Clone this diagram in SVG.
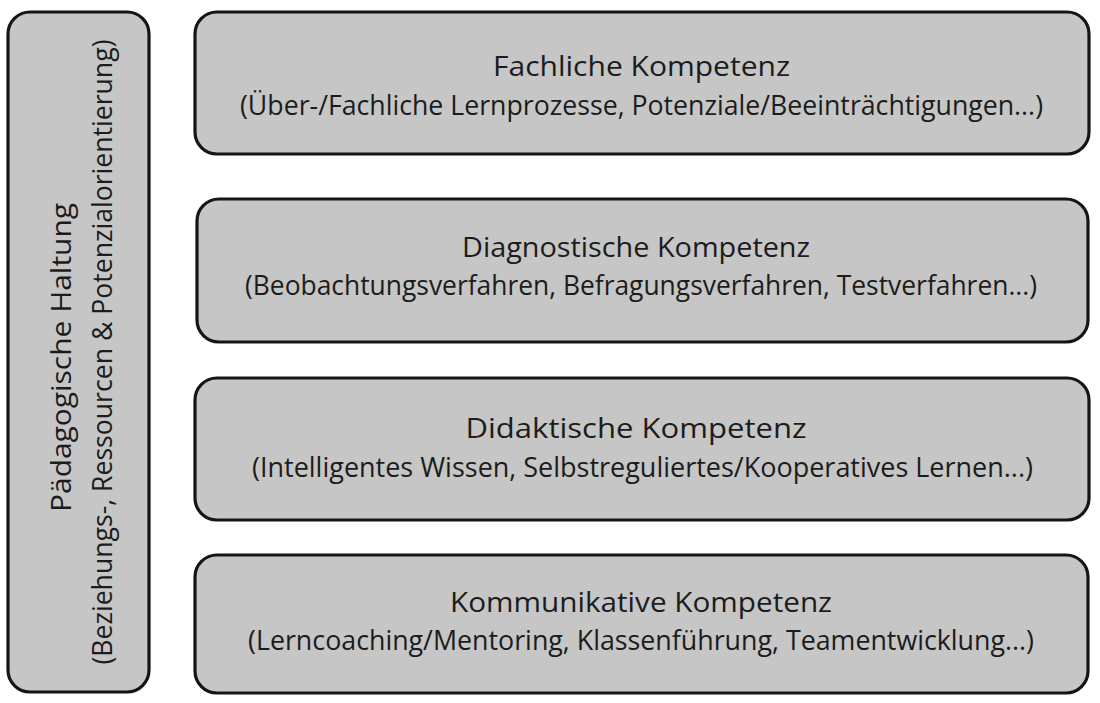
<svg xmlns="http://www.w3.org/2000/svg" width="1100" height="703" viewBox="0 0 1100 703">
<style>
.box{fill:#c6c6c6;stroke:#151515;stroke-width:3.2}
.t{font-family:"Open Sans","Noto Sans","Liberation Sans",sans-serif;font-size:28px;fill:#1c1c1c;text-anchor:middle}
</style>
<rect width="1100" height="703" fill="#ffffff"/>
<g id="haltung">
<rect class="box" x="8" y="12" width="141" height="680" rx="22" ry="22"/>
<text class="t" transform="translate(71,357.5) rotate(-90)" textLength="309" lengthAdjust="spacingAndGlyphs">Pädagogische Haltung</text>
<text class="t" transform="translate(112,352) rotate(-90)" textLength="625" lengthAdjust="spacingAndGlyphs">(Beziehungs-, Ressourcen &amp; Potenzialorientierung)</text>
</g>
<g id="fachlich">
<rect class="box" x="195" y="12" width="894" height="142" rx="22" ry="22"/>
<text class="t" x="641.5" y="76" textLength="297" lengthAdjust="spacingAndGlyphs">Fachliche Kompetenz</text>
<text class="t" x="641.5" y="115" textLength="803" lengthAdjust="spacingAndGlyphs">(Über-/Fachliche Lernprozesse, Potenziale/Beeinträchtigungen...)</text>
</g>
<g id="diagnostisch">
<rect class="box" x="197" y="199" width="891" height="143" rx="22" ry="22"/>
<text class="t" x="636" y="257" textLength="348" lengthAdjust="spacingAndGlyphs">Diagnostische Kompetenz</text>
<text class="t" x="641" y="295" textLength="792" lengthAdjust="spacingAndGlyphs">(Beobachtungsverfahren, Befragungsverfahren, Testverfahren...)</text>
</g>
<g id="didaktisch">
<rect class="box" x="195" y="378" width="894" height="142" rx="22" ry="22"/>
<text class="t" x="636" y="438" textLength="341" lengthAdjust="spacingAndGlyphs">Didaktische Kompetenz</text>
<text class="t" x="642.5" y="477" textLength="781" lengthAdjust="spacingAndGlyphs">(Intelligentes Wissen, Selbstreguliertes/Kooperatives Lernen...)</text>
</g>
<g id="kommunikativ">
<rect class="box" x="195" y="555" width="893" height="138" rx="22" ry="22"/>
<text class="t" x="641" y="612" textLength="382" lengthAdjust="spacingAndGlyphs">Kommunikative Kompetenz</text>
<text class="t" x="641" y="650" textLength="786" lengthAdjust="spacingAndGlyphs">(Lerncoaching/Mentoring, Klassenführung, Teamentwicklung...)</text>
</g>
<g id="connectors"/>
</svg>
